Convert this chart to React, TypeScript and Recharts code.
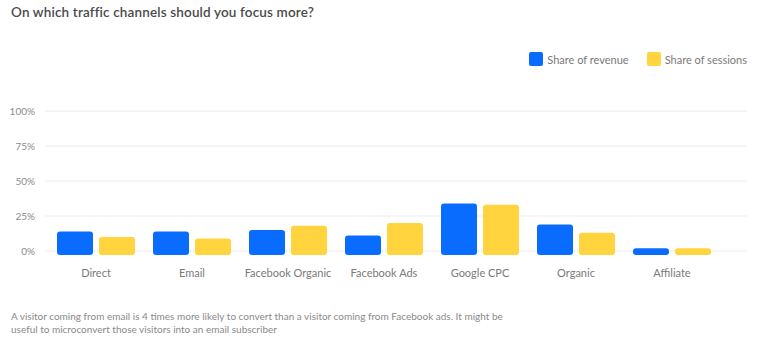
import { BarChart, Bar, XAxis, YAxis, CartesianGrid, Legend } from 'recharts'

const channels = ['Direct', 'Email', 'Facebook Organic', 'Facebook Ads', 'Google CPC', 'Organic', 'Affiliate']
const revenueShare = [14, 14, 15, 11, 34, 19, 2]
const sessionShare = [10, 9, 18, 20, 33, 13, 2]
const percentTicks = [0, 25, 50, 75, 100]

const seriesInfo = [
  { key: 'revenue', name: 'Share of revenue', color: '#0A6CFF' },
  { key: 'sessions', name: 'Share of sessions', color: '#FFD43E' },
]

const data = channels.map((channel, i) => ({
  channel,
  revenue: revenueShare[i],
  sessions: sessionShare[i],
}))

const FONT = 'Lato, "Noto Sans", sans-serif'

// bars in the reference run a few px below the 0% line, with soft corners
const RoundedBar = (props: any) => {
  const { x, y, width, height, fill } = props
  if (height == null || width == null) return null
  const h = height + 4
  const r = Math.min(3, h / 2)
  return (
    <path
      d={`M${x + r},${y} H${x + width - r} Q${x + width},${y} ${x + width},${y + r} V${y + h - r} Q${x + width},${y + h} ${x + width - r},${y + h} H${x + r} Q${x},${y + h} ${x},${y + h - r} V${y + r} Q${x},${y} ${x + r},${y} Z`}
      fill={fill}
    />
  )
}

const LegendContent = () => (
  <div style={{ display: 'flex', alignItems: 'center', height: 14, fontFamily: FONT, fontSize: 11, color: '#7a7a7a' }}>
    {seriesInfo.map((s, i) => (
      <div key={s.key} style={{ display: 'flex', alignItems: 'center', marginLeft: i ? 18 : 0 }}>
        <span style={{ width: 14, height: 14, background: s.color, borderRadius: 2, display: 'inline-block', marginRight: 4 }} />
        <span>{s.name}</span>
      </div>
    ))}
  </div>
)

export default function App() {
  return (
    <div style={{ position: 'absolute', left: 0, top: 0, width: 773, height: 352, background: '#fff', fontFamily: FONT }}>
      <div style={{ position: 'absolute', left: 11, top: 4, fontSize: 13.5, fontWeight: 600, color: '#4a4a4a', letterSpacing: 0.15 }}>
        On which traffic channels should you focus more?
      </div>
      <BarChart
        width={773}
        height={352}
        data={data}
        margin={{ top: 97, right: 26, bottom: 71, left: 0 }}
        barSize={36}
        barGap={6}
      >
        <CartesianGrid vertical={false} stroke="#ececec" />
        <XAxis
          dataKey="channel"
          axisLine={false}
          tickLine={false}
          tickSize={0}
          tickMargin={18}
          padding={{ left: 3, right: 27 }}
          interval={0}
          tick={{ fill: '#7a7a7a', fontSize: 11, fontFamily: FONT }}
        />
        <YAxis
          domain={[0, 100]}
          ticks={percentTicks}
          width={45}
          axisLine={false}
          tickLine={false}
          tickSize={0}
          tickMargin={10}
          tickFormatter={(v) => `${v}%`}
          tick={{ fill: '#8a8a8a', fontSize: 10, fontFamily: FONT }}
        />
        <Legend
          verticalAlign="top"
          align="right"
          content={<LegendContent />}
          wrapperStyle={{ top: 52, right: 26, left: 'auto', width: 'auto' }}
        />
        {seriesInfo.map((s) => (
          <Bar key={s.key} dataKey={s.key} name={s.name} fill={s.color} shape={<RoundedBar />} isAnimationActive={false} />
        ))}
      </BarChart>
      <div style={{ position: 'absolute', left: 11, top: 310, width: 500, fontSize: 10, lineHeight: '13px', color: '#8a8a8a' }}>
        A visitor coming from email is 4 times more likely to convert than a visitor coming from Facebook ads. It might be useful to microconvert those visitors into an email subscriber
      </div>
    </div>
  )
}
